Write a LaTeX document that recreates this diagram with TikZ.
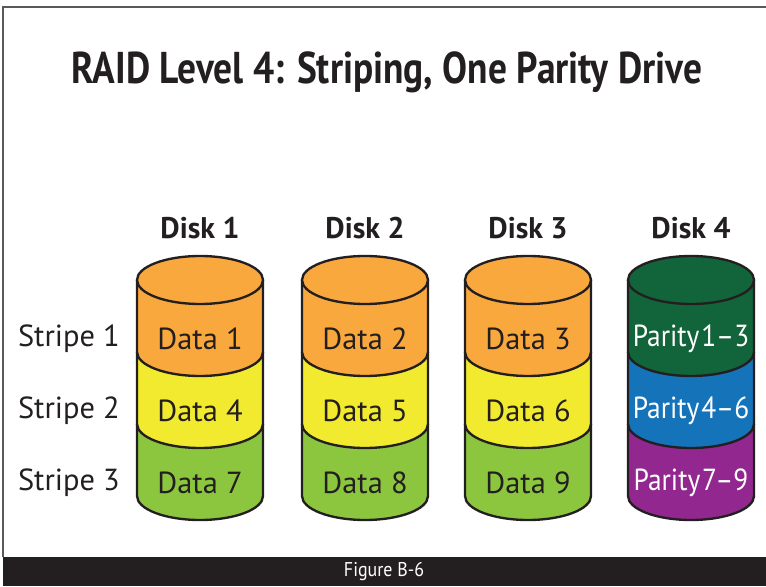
\documentclass[tikz,border=0pt]{standalone}
\usepackage{fontspec}
\setmainfont{PT Sans}
\newfontfamily\titlefont[FakeStretch=0.84]{PT Sans}
\newfontfamily\narrowfont[FakeStretch=0.9]{PT Sans}
\usetikzlibrary{positioning}
\definecolor{ink}{HTML}{231F20}
\definecolor{dataA}{HTML}{F9A83E}
\definecolor{dataB}{HTML}{F2EA2E}
\definecolor{dataC}{HTML}{8CC63F}
\definecolor{parA}{HTML}{12653A}
\definecolor{parB}{HTML}{1573BA}
\definecolor{parC}{HTML}{92278F}
\tikzset{
  rim/.style={draw=ink, line width=2pt, line join=round},
  big/.style={font=\fontsize{26}{30}\selectfont, text=ink, inner sep=0pt},
  disklabel/.style={font=\fontsize{25.5}{30}\selectfont\bfseries, text=ink},
}
\begin{document}
\begin{tikzpicture}[x=0.03cm, y=0.03cm]
\useasboundingbox (0,0) rectangle (766,586);
\draw[gray!70!black, line width=1pt] (3,29) -- (3,579) -- (770,579);
\fill[ink] (3,0) rectangle (766,29);
\node[text=white, font=\narrowfont\fontsize{17}{20}\selectfont] (caption) at (384,14) {Figure B-6};
\node[text=ink, font=\titlefont\bfseries\fontsize{38}{44}\selectfont] (title) at (387,514)
  {RAID Level 4: Striping, One Parity Drive};

\foreach \s/\y in {1/247, 2/175, 3/103}{
  \node[big, anchor=east] (stripe\s) at (120,\y) {Stripe \s};
}

% data disks, bands drawn bottom up so each lower rim covers the band below
\foreach \d/\cx in {1/200, 2/365, 3/528}{
  \node[disklabel] (disk\d) at (\cx,358) {Disk \d};
  \foreach \s/\yt/\col in {3/162/dataC, 2/234/dataB, 1/306/dataA}{
    \filldraw[rim, fill=\col] (\cx-63,\yt) -- (\cx-63,\yt-72)
      arc[start angle=180, end angle=360, x radius=63, y radius=24] -- (\cx+63,\yt) -- cycle;
    \pgfmathtruncatemacro{\n}{(\s-1)*3+\d}
    \node[big] (cell\d\s) at (\cx,\yt-59) {Data \n};
  }
  \filldraw[rim, fill=dataA] (\cx,306) ellipse[x radius=63, y radius=24];
}

% parity disk
\node[disklabel] (disk4) at (691,358) {Disk 4};
\foreach \s/\yt/\col/\txt in {3/162/parC/7–9, 2/234/parB/4–6, 1/306/parA/1–3}{
  \filldraw[rim, fill=\col] (691-63,\yt) -- (691-63,\yt-72)
    arc[start angle=180, end angle=360, x radius=63, y radius=24] -- (691+63,\yt) -- cycle;
  \node[big, text=white, font=\narrowfont\fontsize{26}{30}\selectfont] (cell4\s) at (691,\yt-59) {Parity\hspace{0.06em}\txt};
}
\filldraw[rim, fill=parA] (691,306) ellipse[x radius=63, y radius=24];
\end{tikzpicture}
\end{document}
